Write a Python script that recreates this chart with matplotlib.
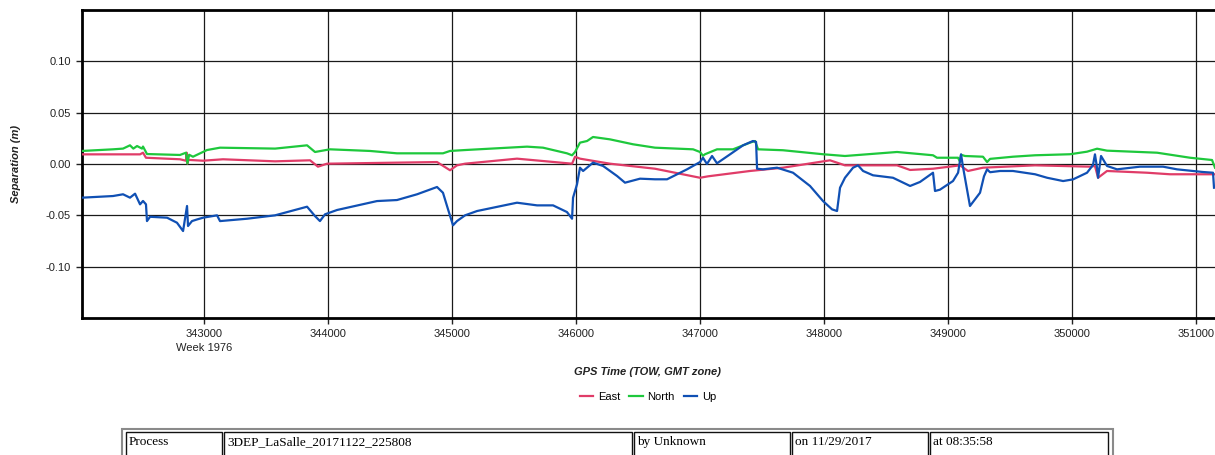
import matplotlib.pyplot as plt
from matplotlib.patches import Rectangle
from matplotlib.ticker import FuncFormatter, MultipleLocator

plt.rcParams['font.family'] = ['Liberation Sans', 'DejaVu Sans']

# ---- data (TOW seconds, separation in metres) ----
east_t = [342016, 342484, 342508, 342532, 342806, 342855, 342860, 342866, 342875,
          342992, 343153, 343573, 343855, 343919, 343992, 344879, 344984, 345040,
          345105, 345524, 345734, 345968, 345992, 346032, 346274, 346637, 347000,
          347065, 347403, 347669, 348048, 348169, 348589, 348694, 348879, 349097,
          349161, 349282, 349702, 350145, 350185, 350210, 350282, 350605, 350790,
          351153]
east_v = [0.0094, 0.0094, 0.0110, 0.0061, 0.0046, 0.0032, 0.0110, 0.0005, 0.0040,
          0.0032, 0.0046, 0.0026, 0.0036, -0.0026, 0.0003, 0.0019, -0.0061, -0.0013,
          0.0003, 0.0052, 0.0029, 0.0003, 0.0071, 0.0052, 0.0003, -0.0046, -0.0134,
          -0.0120, -0.0068, -0.0036, 0.0036, -0.0013, -0.0013, -0.0058, -0.0046, -0.0013,
          -0.0068, -0.0036, -0.0013, -0.0026, -0.0019, -0.0134, -0.0068, -0.0085, -0.0100,
          -0.0100]

north_t = [342016, 342266, 342347, 342403, 342430, 342460, 342500, 342508, 342540,
           342806, 342855, 342866, 342880, 342911, 343024, 343129, 343573, 343831,
           343895, 344016, 344339, 344556, 344927, 344984, 345105, 345605, 345734,
           345927, 345968, 345992, 346032, 346089, 346137, 346274, 346460, 346637,
           346944, 347000, 347024, 347040, 347137, 347266, 347403, 347444, 347468,
           347669, 347992, 348169, 348589, 348879, 348911, 349081, 349097, 349105,
           349137, 349282, 349315, 349339, 349524, 349702, 349984, 350121, 350202,
           350282, 350686, 350952, 351129, 351153]
north_v = [0.0127, 0.0143, 0.0150, 0.0182, 0.0150, 0.0175, 0.0150, 0.0170, 0.0097,
           0.0088, 0.0110, 0.0005, 0.0090, 0.0071, 0.0136, 0.0159, 0.0150, 0.0182,
           0.0117, 0.0143, 0.0127, 0.0104, 0.0104, 0.0127, 0.0136, 0.0169, 0.0159,
           0.0104, 0.0085, 0.0117, 0.0208, 0.0224, 0.0263, 0.0240, 0.0192, 0.0159,
           0.0143, 0.0117, 0.0080, 0.0095, 0.0143, 0.0143, 0.0208, 0.0224, 0.0143,
           0.0134, 0.0095, 0.0078, 0.0117, 0.0085, 0.0061, 0.0061, 0.0020, 0.0090,
           0.0078, 0.0071, 0.0019, 0.0050, 0.0071, 0.0085, 0.0095, 0.0120, 0.0149,
           0.0130, 0.0110, 0.0061, 0.0039, -0.0036]

up_t = [342016, 342266, 342347, 342403, 342444, 342484, 342508, 342532, 342540,
        342565, 342702, 342782, 342831, 342863, 342871, 342903, 342944, 342992,
        343105, 343129, 343347, 343573, 343831, 343895, 343935, 343976, 344073,
        344395, 344556, 344718, 344879, 344927, 344968, 345008, 345040, 345105,
        345202, 345524, 345686, 345815, 345927, 345968, 345976, 346008, 346032,
        346057, 346137, 346218, 346331, 346395, 346516, 346637, 346734, 346895,
        347000, 347024, 347056, 347097, 347137, 347242, 347347, 347427, 347452,
        347460, 347508, 347621, 347750, 347887, 347992, 348065, 348105, 348129,
        348169, 348234, 348274, 348315, 348395, 348556, 348694, 348774, 348879,
        348895, 348935, 349040, 349081, 349105, 349121, 349177, 349258, 349290,
        349315, 349339, 349420, 349524, 349702, 349799, 349928, 350008, 350121,
        350169, 350185, 350202, 350210, 350234, 350282, 350363, 350548, 350734,
        350847, 351056, 351137, 351145]
up_v = [-0.0328, -0.0312, -0.0295, -0.0328, -0.0289, -0.0393, -0.0360, -0.0393, -0.0556,
        -0.0514, -0.0523, -0.0572, -0.0653, -0.0409, -0.0604, -0.0556, -0.0540, -0.0523,
        -0.0500, -0.0556, -0.0533, -0.0500, -0.0416, -0.0507, -0.0556, -0.0490, -0.0448,
        -0.0361, -0.0351, -0.0295, -0.0224, -0.0280, -0.0442, -0.0597, -0.0556, -0.0500,
        -0.0458, -0.0377, -0.0403, -0.0403, -0.0468, -0.0533, -0.0328, -0.0198, -0.0036,
        -0.0068, 0.0013, -0.0019, -0.0117, -0.0182, -0.0143, -0.0149, -0.0149, -0.0052,
        0.0019, 0.0061, 0.0000, 0.0078, 0.0007, 0.0094, 0.0182, 0.0224, 0.0215,
        -0.0046, -0.0052, -0.0036, -0.0085, -0.0214, -0.0361, -0.0442, -0.0458, -0.0231,
        -0.0134, -0.0036, -0.0013, -0.0068, -0.0110, -0.0134, -0.0214, -0.0175, -0.0085,
        -0.0263, -0.0250, -0.0166, -0.0085, 0.0094, -0.0030, -0.0409, -0.0280, -0.0120,
        -0.0052, -0.0080, -0.0068, -0.0068, -0.0100, -0.0134, -0.0166, -0.0150, -0.0085,
        -0.0010, 0.0094, -0.0040, -0.0134, 0.0078, -0.0019, -0.0052, -0.0026, -0.0026,
        -0.0052, -0.0078, -0.0085, -0.0231]

series_names = ['East', 'North', 'Up']
series_colors = ['#E03C68', '#1EC83C', '#1050B4']

week_label = 'Week 1976'
table_cells = ['Process', '3DEP_LaSalle_20171122_225808', 'by Unknown',
               'on 11/29/2017', 'at 08:35:58']

# ---- figure ----
W, H = 1215, 455
fig = plt.figure(figsize=(W / 100, H / 100), dpi=100)
ax = fig.add_axes([82 / W, 1 - 318 / H, (W - 82) / W, (318 - 10) / H])

for t, v, name, c in zip([east_t, north_t, up_t], [east_v, north_v, up_v],
                         series_names, series_colors):
    ax.plot(t, v, color=c, lw=1.6, label=name, zorder=3)

ax.set_xlim(342016, 351153)
ax.set_ylim(-0.15, 0.15)
ax.xaxis.set_major_locator(MultipleLocator(1000))
ax.set_yticks([-0.10, -0.05, 0.0, 0.05, 0.10])
ax.xaxis.set_major_formatter(FuncFormatter(lambda v, p: f'{v:.0f}'))
ax.yaxis.set_major_formatter(FuncFormatter(lambda v, p: f'{v:.2f}'))
ax.tick_params(length=4, width=1, color='#222222', labelsize=8,
               labelcolor='#222222', pad=4)
ax.grid(True, color='#1a1a1a', lw=0.9)
ax.set_axisbelow(True)

for s in ['left', 'top', 'bottom']:
    ax.spines[s].set_linewidth(2)
    ax.spines[s].set_color('black')
ax.spines['right'].set_visible(False)

ax.text(343000, -0.097, week_label, transform=ax.get_xaxis_transform(),
        ha='center', va='center', fontsize=8, color='#222222')

ax.set_xlabel('GPS Time (TOW, GMT zone)', fontsize=8, fontweight='bold',
              style='italic', color='#222222')
ax.xaxis.set_label_coords((648 - 82) / (W - 82), (318 - 367) / 308)
ax.set_ylabel('Separation (m)', fontsize=8, fontweight='bold',
              style='italic', color='#222222')
ax.yaxis.set_label_coords((21 - 82) / (W - 82), 0.5)

fig.legend(loc='center', bbox_to_anchor=(648 / W, 1 - 397 / H), ncol=3,
           frameon=False, fontsize=8, handlelength=1.2, handletextpad=0.4,
           columnspacing=0.85)

# ---- process info table below the chart ----
def px_rect(x0, y0, x1, y1, **kw):
    fig.add_artist(Rectangle((x0 / W, 1 - y1 / H), (x1 - x0) / W, (y1 - y0) / H,
                             transform=fig.transFigure, fill=False, **kw))

px_rect(122, 429, 1113, 460, edgecolor='#8a8a8a', lw=1.5)
edges = [126, 224, 634, 792, 930, 1110]
for i, txt in enumerate(table_cells):
    x0, x1 = edges[i], edges[i + 1] - 2
    px_rect(x0, 432, x1, 460, edgecolor='#111111', lw=1.0)
    fig.text((x0 + 3) / W, 1 - 442 / H, txt, ha='left', va='center',
             fontsize=9.5, family=['Liberation Serif', 'DejaVu Serif'])

fig.savefig('out.png', dpi=100)
